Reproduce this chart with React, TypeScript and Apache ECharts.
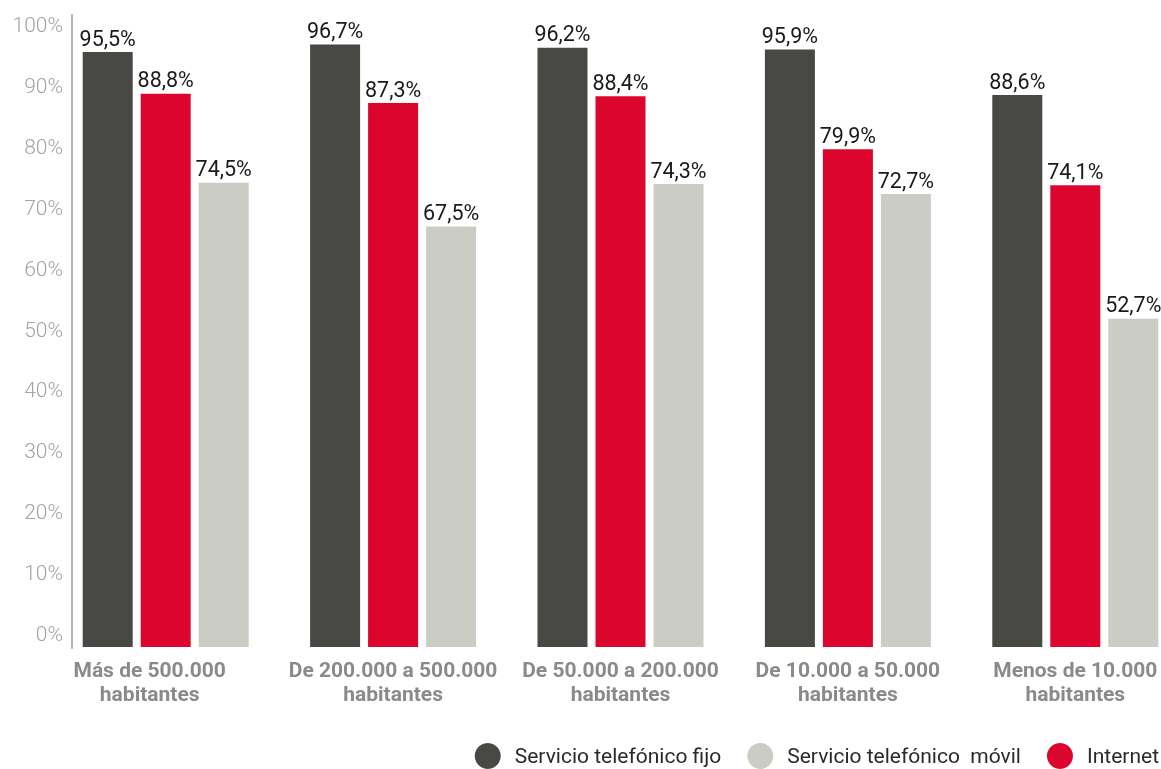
import React, { useEffect, useRef } from "react";
import * as echarts from "echarts";

const categories = [
  "Más de 500.000\nhabitantes",
  "De 200.000 a 500.000\nhabitantes",
  "De 50.000 a 200.000\nhabitantes",
  "De 10.000 a 50.000\nhabitantes",
  "Menos de 10.000\nhabitantes",
];
const fijo = [95.5, 96.7, 96.2, 95.9, 88.6];
const internet = [88.8, 87.3, 88.4, 79.9, 74.1];
const movil = [74.5, 67.5, 74.3, 72.7, 52.7];

const nameFijo = "Servicio telefónico fijo";
const nameMovil = "Servicio telefónico  móvil";
const nameInternet = "Internet";

const fmt = (p: any) => String(p.value).replace(".", ",") + "%";

const CHART_W = 1210;

export default function App() {
  const ref = useRef<HTMLDivElement>(null);
  useEffect(() => {
    const chart = echarts.init(ref.current!, null, { renderer: "svg" });
    const label = {
      show: true,
      position: "top",
      distance: 3,
      formatter: fmt,
      color: "#1a1a1a",
      fontSize: 21.5,
      fontFamily: "Roboto",
    };
    const hiddenX = (gridIndex: number) => ({
      type: "category",
      gridIndex,
      data: categories,
      show: false,
    });
    chart.setOption({
      animation: false,
      textStyle: { fontFamily: "Roboto" },
      grid: [
        { left: 52, width: 1137, top: 24, bottom: 122, containLabel: false },
        { left: 52, width: 1137, top: 25, bottom: 135, containLabel: false },
        { left: 52, width: 1137, top: 15, bottom: 121, containLabel: false },
      ],
      legend: {
        data: [nameFijo, nameMovil, nameInternet],
        formatter: (n: string) => n.replace("  ", "\u00a0 "),
        right: CHART_W - 1161 + 2,
        bottom: 0,
        padding: 0,
        icon: "circle",
        itemWidth: 26,
        itemHeight: 26,
        itemGap: 26,
        textStyle: { fontSize: 21, color: "#2a2a2a", fontFamily: "Roboto", padding: [0, 0, 0, 9] },
      },
      xAxis: [
        {
          type: "category",
          gridIndex: 0,
          data: categories.map((c, i) =>
            i === 0 ? { value: c, textStyle: { padding: [0, 32, 0, 0] } } : c
          ),
          axisLine: { show: false },
          axisTick: { show: false },
          axisLabel: {
            color: "#8a8a8a",
            fontSize: 21,
            fontWeight: "bold",
            lineHeight: 24,
            margin: 11,
            interval: 0,
            fontFamily: "Roboto",
          },
        },
        hiddenX(1),
        hiddenX(2),
      ],
      yAxis: [
        {
          type: "value",
          gridIndex: 0,
          min: 0,
          max: 100,
          interval: 10,
          show: false,
          splitLine: { show: false },
        },
        {
          type: "value",
          gridIndex: 1,
          min: 0,
          max: 100,
          interval: 10,
          offset: -20,
          axisLine: { show: false },
          axisTick: { show: false },
          splitLine: { show: false },
          axisLabel: {
            formatter: "{value}%",
            color: "#a3a3a3",
            fontSize: 21,
            margin: 9,
            fontFamily: "Roboto",
            fontWeight: 300,
          },
        },
        {
          type: "value",
          gridIndex: 2,
          min: 0,
          max: 100,
          offset: -20,
          axisLine: { show: true, lineStyle: { color: "#b3b3b3", width: 2 } },
          axisTick: { show: false },
          axisLabel: { show: false },
          splitLine: { show: false },
        },
      ],
      series: [
        {
          name: nameFijo,
          type: "bar",
          xAxisIndex: 0,
          yAxisIndex: 0,
          data: fijo,
          barWidth: 50,
          barGap: "16%",
          itemStyle: { color: "#484944" },
          label,
        },
        {
          name: nameInternet,
          type: "bar",
          xAxisIndex: 0,
          yAxisIndex: 0,
          data: internet,
          barWidth: 50,
          barGap: "16%",
          itemStyle: { color: "#dc052d" },
          label,
        },
        {
          name: nameMovil,
          type: "bar",
          xAxisIndex: 0,
          yAxisIndex: 0,
          data: movil,
          barWidth: 50,
          barGap: "16%",
          itemStyle: { color: "#cbccc4" },
          label,
        },
      ],
    });
    return () => chart.dispose();
  }, []);
  return (
    <div
      style={{ position: "fixed", left: 0, top: 0, width: 1161, height: 769, overflow: "hidden" }}
    >
      <div ref={ref} style={{ width: CHART_W, height: 769 }} />
    </div>
  );
}
